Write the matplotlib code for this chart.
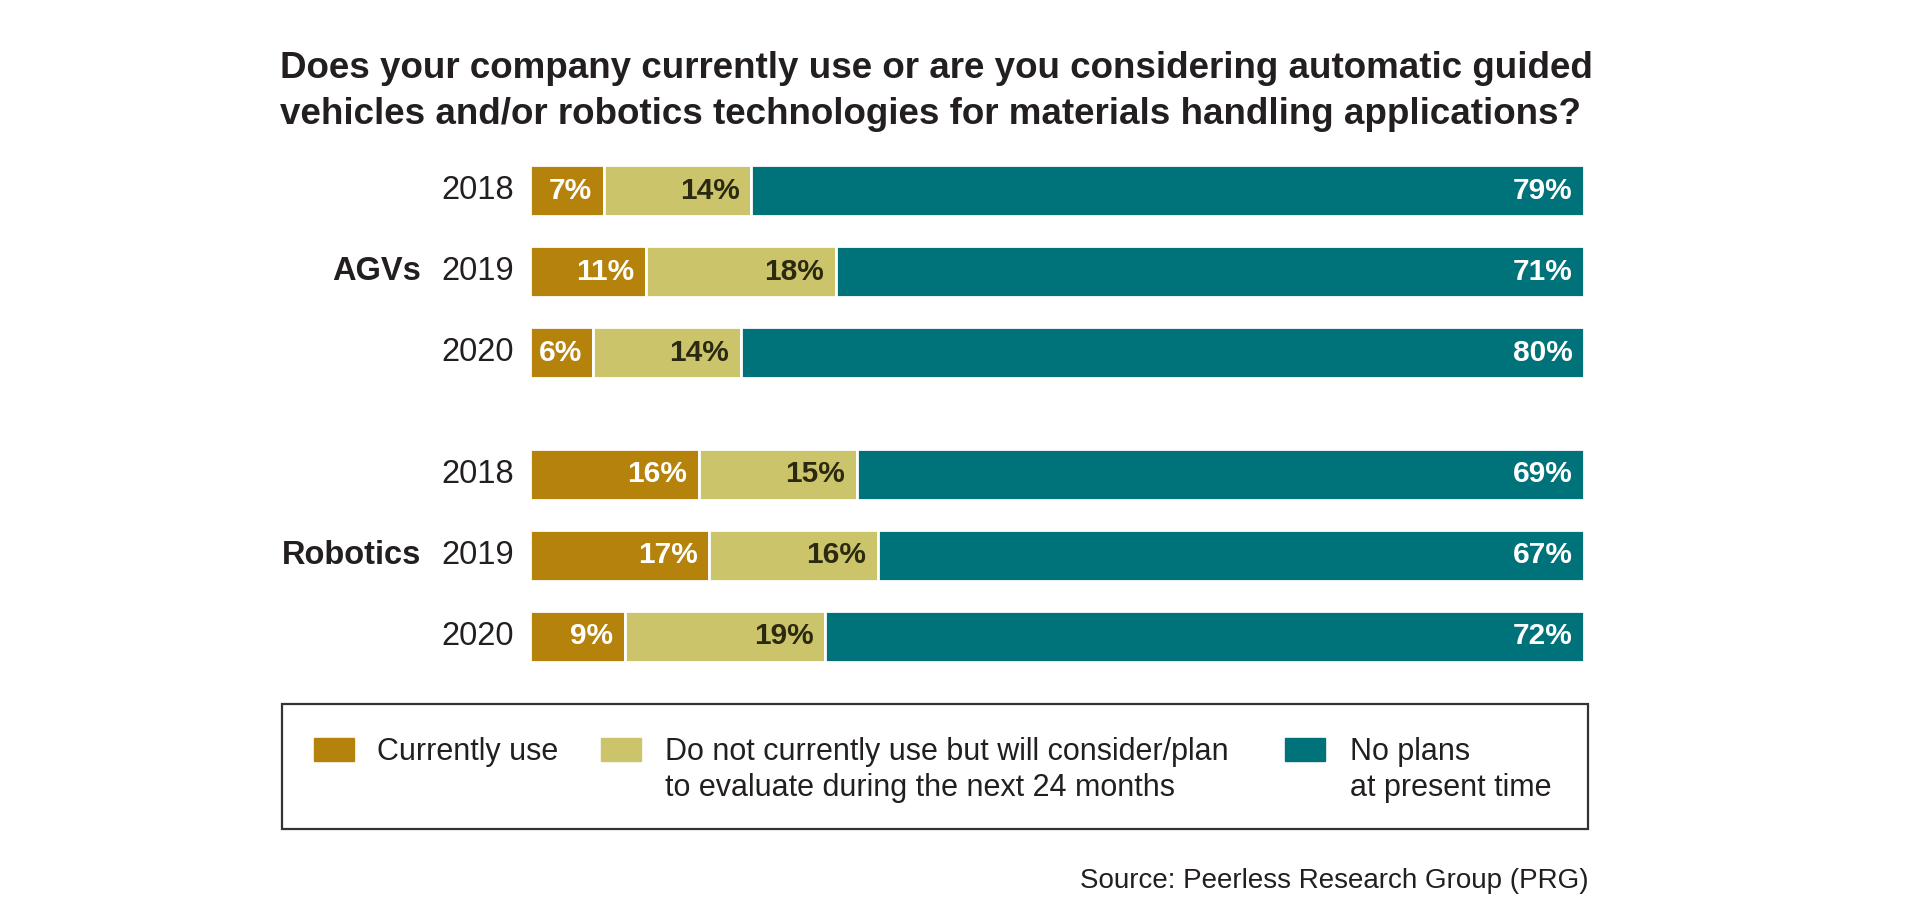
import matplotlib.pyplot as plt
import numpy as np
from matplotlib.patches import Rectangle

plt.rcParams['font.family'] = ['Liberation Sans', 'DejaVu Sans']

# data
groups = ['AGVs', 'Robotics']
years = ['2018', '2019', '2020', '2018', '2019', '2020']
current_use = [7, 11, 6, 16, 17, 9]
consider = [14, 18, 14, 15, 16, 19]
no_plans = [79, 71, 80, 69, 67, 72]
series_names = ['Currently use',
                'Do not currently use but will consider/plan\nto evaluate during the next 24 months',
                'No plans\nat present time']

colors = ['#b5820b', '#cbc46b', '#00727a']
text_colors = ['white', '#2b2a10', 'white']
dark = '#231f20'

W, H = 1924, 913
fig = plt.figure(figsize=(W / 100, H / 100), dpi=100)

# bar rows: three per group, gap of half a row between groups
ypos = np.array([0, 1, 2, 3.5, 4.5, 5.5])
bh = 0.63

ax = fig.add_axes([530 / W, 1 - 662 / H, (1584 - 530) / W, (662 - 165) / H])
ax.set_xlim(0, 100)
ax.set_ylim(ypos[-1] + bh / 2, ypos[0] - bh / 2)
ax.axis('off')

left = np.zeros(len(ypos))
for vals, c, tc in zip([current_use, consider, no_plans], colors, text_colors):
    vals = np.array(vals)
    ax.barh(ypos, vals, left=left, height=bh, color=c, edgecolor='white', linewidth=2)
    for y, l, v in zip(ypos, left, vals):
        ax.text(l + v - 1.1, y, f'{v}%', ha='right', va='center', color=tc,
                fontsize=21.5, fontweight='bold')
    left += vals

# year labels and group labels
for y, yr in zip(ypos, years):
    ax.text(-1.5, y, yr, ha='right', va='center', fontsize=23.5, color=dark)
ax.text(-10.3, ypos[1], groups[0], ha='right', va='center', fontsize=23.5,
        fontweight='bold', color=dark)
ax.text(-10.3, ypos[4], groups[1], ha='right', va='center', fontsize=23.5,
        fontweight='bold', color=dark)

# title
fig.text(280 / W, 1 - 78 / H,
         'Does your company currently use or are you considering automatic guided',
         ha='left', va='baseline', fontsize=26.5, fontweight='bold', color=dark)
fig.text(280 / W, 1 - 124 / H,
         'vehicles and/or robotics technologies for materials handling applications?',
         ha='left', va='baseline', fontsize=26.5, fontweight='bold', color=dark)

# legend box
fig.patches.append(Rectangle((282 / W, 1 - 829 / H), (1588 - 282) / W, (829 - 704) / H,
                             transform=fig.transFigure, fill=False,
                             edgecolor='#333333', linewidth=1.6))
sq_x = [314, 601, 1285]
tx_x = [377, 665, 1350]
for sx, tx, c, name in zip(sq_x, tx_x, colors, series_names):
    fig.patches.append(Rectangle((sx / W, 1 - 761 / H), 40 / W, 23 / H,
                                 transform=fig.transFigure, color=c))
    fig.text(tx / W, 1 - 760 / H, name.split('\n')[0], ha='left', va='baseline',
             fontsize=22, color=dark)
    if '\n' in name:
        fig.text(tx / W, 1 - 796 / H, name.split('\n')[1], ha='left', va='baseline',
                 fontsize=22, color=dark)

fig.text(1589 / W, 1 - 888 / H, 'Source: Peerless Research Group (PRG)',
         ha='right', va='baseline', fontsize=20, color=dark)

fig.savefig('out.png', dpi=100, facecolor='white')
